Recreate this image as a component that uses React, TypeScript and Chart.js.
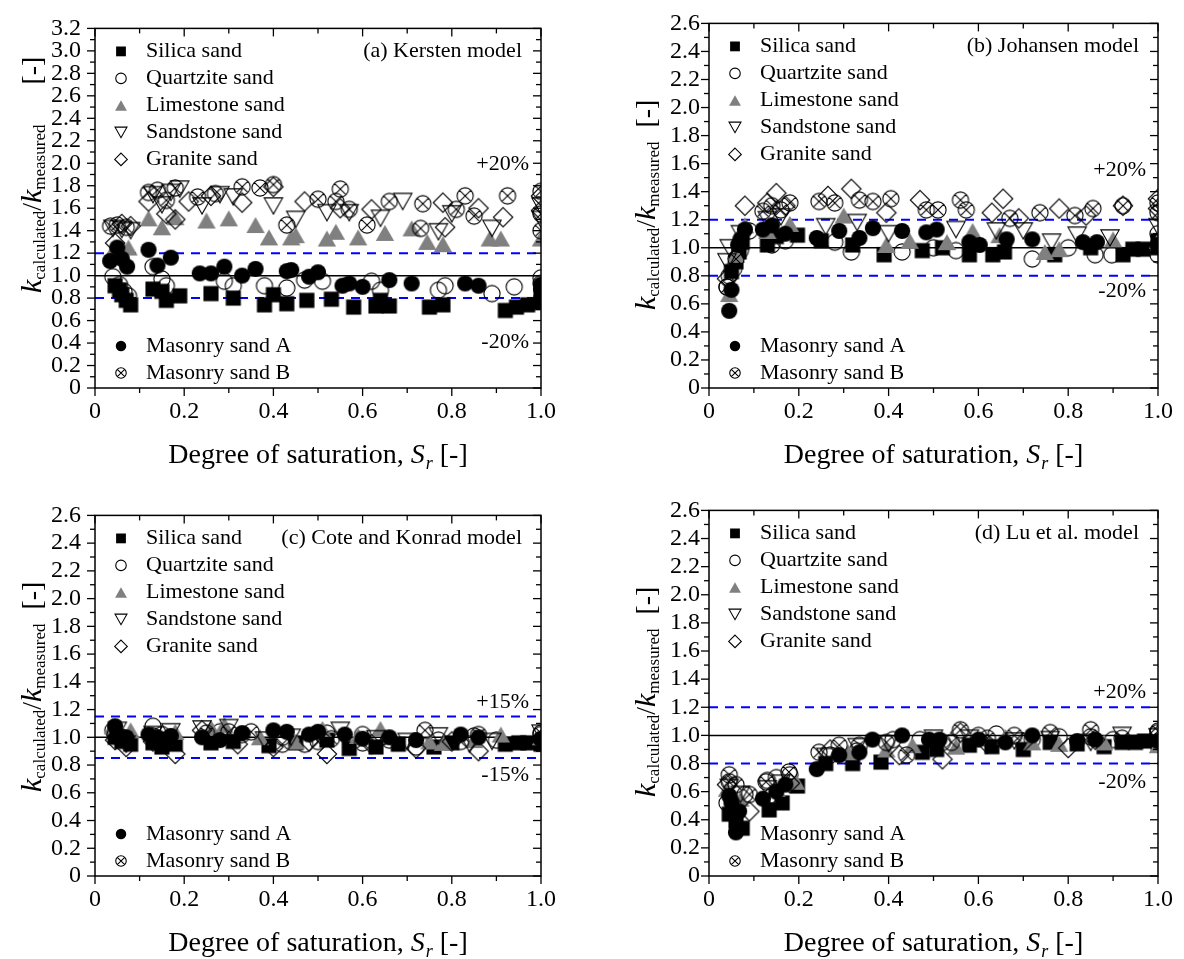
import React, { useEffect, useRef } from 'react';
import { Chart, registerables } from 'chart.js';

Chart.register(...registerables);

type Pt = [number, number];

const SERIES_NAMES = ['Silica sand', 'Quartzite sand', 'Limestone sand', 'Sandstone sand', 'Granite sand', 'Masonry sand A', 'Masonry sand B'];
const MARKER_KINDS = ['square', 'circleOpen', 'triangleGray', 'triDownOpen', 'diamondOpen', 'circleFilled', 'circleCross'];

const X_TICK_LABELS = ['0', '0.2', '0.4', '0.6', '0.8', '1.0'];
const Y_TICK_LABELS_32 = ['0', '0.2', '0.4', '0.6', '0.8', '1.0', '1.2', '1.4', '1.6', '1.8', '2.0', '2.2', '2.4', '2.6', '2.8', '3.0', '3.2'];
const Y_TICK_LABELS_26 = ['0', '0.2', '0.4', '0.6', '0.8', '1.0', '1.2', '1.4', '1.6', '1.8', '2.0', '2.2', '2.4', '2.6'];

// ---------------- (a) Kersten model ----------------
const A_SILICA: Pt[] = [[0.045, 0.91], [0.055, 0.87], [0.06, 0.83], [0.07, 0.78], [0.08, 0.74], [0.13, 0.88], [0.15, 0.86], [0.16, 0.78], [0.19, 0.82], [0.26, 0.84], [0.31, 0.80], [0.38, 0.74], [0.40, 0.83], [0.43, 0.75], [0.475, 0.78], [0.53, 0.79], [0.58, 0.72], [0.63, 0.73], [0.64, 0.78], [0.66, 0.73], [0.75, 0.72], [0.78, 0.74], [0.92, 0.69], [0.945, 0.72], [0.97, 0.74], [1.0, 0.76], [1.0, 0.80]];
const A_QUARTZITE: Pt[] = [[0.04, 0.99], [0.055, 0.92], [0.065, 0.86], [0.075, 0.82], [0.13, 1.08], [0.15, 0.97], [0.16, 0.91], [0.29, 0.95], [0.31, 0.91], [0.38, 0.91], [0.43, 0.89], [0.47, 0.96], [0.51, 0.95], [0.62, 0.95], [0.64, 0.87], [0.77, 0.87], [0.785, 0.91], [0.89, 0.84], [0.94, 0.90], [1.0, 0.93], [1.0, 0.98]];
const A_LIMESTONE: Pt[] = [[0.04, 1.22], [0.075, 1.25], [0.12, 1.51], [0.15, 1.43], [0.18, 1.52], [0.25, 1.49], [0.30, 1.51], [0.36, 1.45], [0.39, 1.34], [0.44, 1.34], [0.45, 1.36], [0.52, 1.33], [0.54, 1.39], [0.59, 1.34], [0.65, 1.38], [0.71, 1.42], [0.745, 1.30], [0.78, 1.28], [0.885, 1.33], [0.91, 1.33], [1.0, 1.33]];
const A_SANDSTONE: Pt[] = [[0.04, 1.42], [0.06, 1.41], [0.08, 1.40], [0.13, 1.72], [0.15, 1.63], [0.17, 1.74], [0.19, 1.77], [0.24, 1.62], [0.28, 1.72], [0.31, 1.70], [0.40, 1.62], [0.45, 1.50], [0.52, 1.56], [0.57, 1.56], [0.64, 1.51], [0.69, 1.66], [0.77, 1.39], [0.80, 1.55], [0.89, 1.42], [1.0, 1.50], [1.0, 1.62]];
const A_GRANITE: Pt[] = [[0.045, 1.29], [0.06, 1.46], [0.08, 1.44], [0.12, 1.66], [0.16, 1.55], [0.18, 1.50], [0.21, 1.66], [0.26, 1.71], [0.33, 1.65], [0.40, 1.79], [0.47, 1.66], [0.55, 1.60], [0.62, 1.59], [0.78, 1.65], [0.785, 1.43], [0.86, 1.60], [0.915, 1.52], [1.0, 1.58], [1.0, 1.71]];
const A_MASONRY_A: Pt[] = [[0.034, 1.13], [0.05, 1.25], [0.06, 1.15], [0.072, 1.08], [0.12, 1.23], [0.14, 1.09], [0.17, 1.16], [0.235, 1.02], [0.26, 1.02], [0.29, 1.08], [0.33, 1.00], [0.36, 1.06], [0.43, 1.04], [0.44, 1.05], [0.48, 0.99], [0.50, 1.03], [0.555, 0.91], [0.57, 0.93], [0.60, 0.90], [0.66, 0.96], [0.71, 0.93], [0.83, 0.93], [0.86, 0.91], [1.0, 0.88], [1.0, 0.92]];
const A_MASONRY_B: Pt[] = [[0.035, 1.44], [0.05, 1.45], [0.07, 1.43], [0.12, 1.74], [0.14, 1.76], [0.16, 1.67], [0.18, 1.78], [0.23, 1.70], [0.27, 1.73], [0.33, 1.79], [0.37, 1.78], [0.40, 1.81], [0.43, 1.45], [0.50, 1.68], [0.54, 1.66], [0.55, 1.77], [0.57, 1.59], [0.61, 1.45], [0.66, 1.66], [0.73, 1.42], [0.735, 1.64], [0.81, 1.59], [0.83, 1.71], [0.85, 1.53], [0.925, 1.71], [1.0, 1.40], [1.0, 1.55], [1.0, 1.75]];

// ---------------- (b) Johansen model ----------------
const B_SILICA: Pt[] = [[0.05, 0.83], [0.06, 0.90], [0.067, 0.97], [0.074, 1.04], [0.13, 1.02], [0.15, 1.08], [0.197, 1.09], [0.25, 1.05], [0.32, 1.02], [0.39, 0.95], [0.475, 0.98], [0.52, 1.00], [0.58, 0.95], [0.632, 0.95], [0.658, 0.97], [0.77, 0.95], [0.85, 1.00], [0.922, 0.95], [0.944, 0.99], [0.967, 0.99], [1.0, 1.00], [1.0, 1.05]];
const B_QUARTZITE: Pt[] = [[0.04, 0.72], [0.055, 0.85], [0.07, 0.98], [0.09, 1.12], [0.14, 1.02], [0.17, 1.05], [0.28, 1.04], [0.317, 0.97], [0.43, 0.97], [0.50, 1.00], [0.55, 0.98], [0.72, 0.92], [0.80, 1.00], [0.86, 0.95], [0.897, 0.95], [1.0, 0.95], [1.0, 1.10]];
const B_LIMESTONE: Pt[] = [[0.045, 0.67], [0.06, 0.95], [0.08, 1.16], [0.13, 1.12], [0.18, 1.17], [0.30, 1.23], [0.395, 1.02], [0.447, 1.05], [0.53, 1.04], [0.587, 1.12], [0.647, 1.09], [0.748, 0.97], [0.78, 0.99], [0.90, 1.06], [1.0, 1.05]];
const B_SANDSTONE: Pt[] = [[0.04, 0.90], [0.045, 1.00], [0.07, 1.10], [0.13, 1.20], [0.16, 1.22], [0.26, 1.15], [0.33, 1.18], [0.40, 1.10], [0.55, 1.13], [0.64, 1.12], [0.70, 1.12], [0.763, 1.04], [0.82, 1.09], [0.893, 1.07], [1.0, 1.15]];
const B_GRANITE: Pt[] = [[0.04, 0.78], [0.08, 1.30], [0.13, 1.32], [0.15, 1.39], [0.17, 1.30], [0.265, 1.37], [0.317, 1.42], [0.395, 1.25], [0.47, 1.34], [0.63, 1.25], [0.655, 1.35], [0.69, 1.21], [0.78, 1.28], [0.84, 1.23], [0.922, 1.30], [1.0, 1.28], [1.0, 1.35]];
const B_MASONRY_A: Pt[] = [[0.045, 0.55], [0.05, 0.70], [0.065, 1.02], [0.07, 1.06], [0.08, 1.13], [0.12, 1.13], [0.14, 1.16], [0.17, 1.10], [0.24, 1.07], [0.29, 1.12], [0.335, 1.07], [0.365, 1.14], [0.43, 1.12], [0.484, 1.11], [0.507, 1.13], [0.58, 1.04], [0.603, 1.02], [0.663, 1.06], [0.72, 1.06], [0.833, 1.04], [0.864, 1.04], [1.0, 1.02]];
const B_MASONRY_B: Pt[] = [[0.04, 0.72], [0.045, 0.80], [0.06, 0.92], [0.12, 1.26], [0.14, 1.30], [0.16, 1.27], [0.18, 1.32], [0.245, 1.33], [0.28, 1.32], [0.335, 1.34], [0.365, 1.33], [0.405, 1.35], [0.484, 1.27], [0.51, 1.27], [0.56, 1.34], [0.573, 1.27], [0.67, 1.21], [0.737, 1.25], [0.815, 1.23], [0.855, 1.28], [0.922, 1.30], [1.0, 1.25], [1.0, 1.32]];

// ---------------- (c) Cote and Konrad model ----------------
const C_SILICA: Pt[] = [[0.045, 1.00], [0.06, 0.97], [0.08, 0.95], [0.13, 0.96], [0.15, 0.93], [0.18, 0.95], [0.26, 0.96], [0.31, 0.97], [0.39, 0.94], [0.45, 0.96], [0.52, 0.98], [0.57, 0.92], [0.63, 0.93], [0.68, 0.95], [0.76, 0.93], [0.80, 0.96], [0.92, 0.95], [0.95, 0.96], [0.97, 0.96], [1.0, 0.95]];
const C_QUARTZITE: Pt[] = [[0.04, 1.05], [0.06, 0.99], [0.13, 1.08], [0.15, 1.02], [0.16, 0.98], [0.28, 1.04], [0.33, 1.02], [0.42, 1.00], [0.47, 0.95], [0.52, 1.03], [0.60, 1.02], [0.64, 1.00], [0.72, 0.93], [0.77, 0.98], [0.85, 1.01], [0.90, 0.98], [1.0, 1.02]];
const C_LIMESTONE: Pt[] = [[0.04, 1.08], [0.08, 1.05], [0.18, 1.04], [0.26, 1.07], [0.29, 1.09], [0.37, 1.00], [0.45, 0.97], [0.51, 1.06], [0.59, 1.01], [0.64, 1.06], [0.75, 0.97], [0.78, 0.96], [0.85, 0.98], [0.91, 1.02], [1.0, 1.00]];
const C_SANDSTONE: Pt[] = [[0.05, 1.05], [0.07, 0.95], [0.13, 1.02], [0.17, 1.04], [0.24, 1.06], [0.30, 1.07], [0.38, 0.98], [0.44, 1.00], [0.55, 1.05], [0.63, 0.99], [0.70, 0.97], [0.77, 1.01], [0.84, 0.95], [0.89, 0.97], [1.0, 1.03]];
const C_GRANITE: Pt[] = [[0.045, 0.98], [0.07, 0.93], [0.13, 0.97], [0.18, 0.88], [0.24, 1.05], [0.32, 0.95], [0.40, 0.93], [0.48, 0.97], [0.52, 0.88], [0.62, 0.95], [0.72, 0.92], [0.80, 0.97], [0.86, 0.90], [1.0, 0.98]];
const C_MASONRY_A: Pt[] = [[0.045, 1.08], [0.05, 1.02], [0.07, 1.00], [0.12, 1.02], [0.14, 1.00], [0.17, 1.01], [0.24, 1.00], [0.28, 0.98], [0.33, 1.03], [0.40, 1.05], [0.43, 1.04], [0.48, 1.02], [0.50, 1.04], [0.56, 1.02], [0.60, 0.99], [0.66, 1.00], [0.72, 0.98], [0.82, 1.02], [0.86, 1.00], [1.0, 0.99]];
const C_MASONRY_B: Pt[] = [[0.045, 1.02], [0.06, 1.00], [0.13, 1.01], [0.16, 0.98], [0.25, 1.03], [0.30, 1.04], [0.35, 1.04], [0.42, 0.95], [0.50, 0.97], [0.53, 0.99], [0.60, 0.96], [0.66, 0.98], [0.74, 1.05], [0.82, 0.97], [0.86, 1.02], [1.0, 1.03]];

// ---------------- (d) Lu et al. model ----------------
const D_SILICA: Pt[] = [[0.045, 0.44], [0.06, 0.39], [0.074, 0.34], [0.134, 0.47], [0.163, 0.52], [0.197, 0.64], [0.26, 0.80], [0.32, 0.80], [0.383, 0.81], [0.475, 0.88], [0.507, 0.90], [0.58, 0.93], [0.63, 0.92], [0.70, 0.90], [0.76, 0.95], [0.82, 0.94], [0.88, 0.92], [0.92, 0.95], [0.95, 0.95], [0.97, 0.96], [1.0, 0.95]];
const D_QUARTZITE: Pt[] = [[0.04, 0.52], [0.06, 0.47], [0.08, 0.58], [0.13, 0.68], [0.15, 0.70], [0.18, 0.72], [0.27, 0.86], [0.33, 0.89], [0.41, 0.97], [0.47, 0.97], [0.52, 0.95], [0.60, 1.00], [0.64, 1.01], [0.72, 0.97], [0.78, 0.99], [0.85, 0.99], [0.90, 0.97], [1.0, 1.02]];
const D_LIMESTONE: Pt[] = [[0.04, 0.62], [0.07, 0.55], [0.15, 0.62], [0.194, 0.67], [0.31, 0.88], [0.395, 0.90], [0.453, 0.93], [0.55, 0.92], [0.66, 0.99], [0.72, 0.95], [0.78, 0.94], [0.88, 0.95], [1.0, 0.93]];
const D_SANDSTONE: Pt[] = [[0.045, 0.63], [0.07, 0.58], [0.13, 0.62], [0.16, 0.66], [0.26, 0.85], [0.33, 0.92], [0.40, 0.94], [0.50, 0.98], [0.58, 0.98], [0.68, 0.96], [0.76, 0.97], [0.85, 0.95], [0.92, 1.00], [1.0, 0.99]];
const D_GRANITE: Pt[] = [[0.04, 0.65], [0.09, 0.46], [0.14, 0.58], [0.18, 0.66], [0.27, 0.90], [0.424, 0.86], [0.52, 0.83], [0.56, 1.02], [0.62, 0.94], [0.70, 0.95], [0.80, 0.91], [0.86, 0.97], [1.0, 1.00]];
const D_MASONRY_A: Pt[] = [[0.045, 0.57], [0.05, 0.52], [0.067, 0.46], [0.06, 0.31], [0.12, 0.55], [0.15, 0.60], [0.17, 0.65], [0.24, 0.76], [0.29, 0.86], [0.335, 0.88], [0.364, 0.97], [0.43, 1.00], [0.49, 0.97], [0.513, 0.97], [0.60, 0.97], [0.66, 0.95], [0.72, 1.00], [0.82, 0.96], [0.86, 0.97], [1.0, 0.96]];
const D_MASONRY_B: Pt[] = [[0.045, 0.72], [0.045, 0.67], [0.06, 0.65], [0.09, 0.58], [0.127, 0.67], [0.178, 0.74], [0.245, 0.88], [0.29, 0.93], [0.335, 0.93], [0.395, 0.95], [0.44, 0.86], [0.54, 0.95], [0.56, 1.04], [0.62, 0.98], [0.68, 1.00], [0.76, 1.02], [0.85, 1.04], [0.92, 0.98], [1.0, 1.03]];

const SERIF = '"Liberation Serif", "Times New Roman", serif';

interface PanelCfg {
  left: number; top: number; w: number; h: number;
  plotLeft: number; plotTop: number; plotRight: number; plotBottom: number;
  yMax: number; yLabels: string[]; labelPad: number;
  title: string; bandHi: number; bandLo: number; hiLabel: string; loLabel: string;
  hiLabelAt: number; loLabelAt: number;
  yTitleStart: number; yTitleGap: number;
  series: Pt[][];
}

const PANELS: PanelCfg[] = [
  {
    left: 0, top: 0, w: 590, h: 480, plotLeft: 95, plotTop: 17, plotRight: 541, plotBottom: 388,
    yMax: 3.2, yLabels: Y_TICK_LABELS_32, labelPad: 14,
    title: '(a) Kersten model', bandHi: 1.2, bandLo: 0.8, hiLabel: '+20%', loLabel: '-20%', hiLabelAt: 1.99, loLabelAt: 0.41,
    yTitleStart: 293, yTitleGap: 40,
    series: [A_SILICA, A_QUARTZITE, A_LIMESTONE, A_SANDSTONE, A_GRANITE, A_MASONRY_A, A_MASONRY_B],
  },
  {
    left: 600, top: 0, w: 584, h: 480, plotLeft: 709, plotTop: 17, plotRight: 1158, plotBottom: 388,
    yMax: 2.6, yLabels: Y_TICK_LABELS_26, labelPad: 9,
    title: '(b) Johansen model', bandHi: 1.2, bandLo: 0.8, hiLabel: '+20%', loLabel: '-20%', hiLabelAt: 1.55, loLabelAt: 0.69,
    yTitleStart: 310, yTitleGap: 14,
    series: [B_SILICA, B_QUARTZITE, B_LIMESTONE, B_SANDSTONE, B_GRANITE, B_MASONRY_A, B_MASONRY_B],
  },
  {
    left: 0, top: 487, w: 590, h: 472, plotLeft: 95, plotTop: 504, plotRight: 541, plotBottom: 876,
    yMax: 2.6, yLabels: Y_TICK_LABELS_26, labelPad: 14,
    title: '(c) Cote and Konrad model', bandHi: 1.15, bandLo: 0.85, hiLabel: '+15%', loLabel: '-15%', hiLabelAt: 1.25, loLabelAt: 0.73,
    yTitleStart: 792, yTitleGap: 14,
    series: [C_SILICA, C_QUARTZITE, C_LIMESTONE, C_SANDSTONE, C_GRANITE, C_MASONRY_A, C_MASONRY_B],
  },
  {
    left: 600, top: 487, w: 584, h: 472, plotLeft: 709, plotTop: 504, plotRight: 1158, plotBottom: 876,
    yMax: 2.6, yLabels: Y_TICK_LABELS_26, labelPad: 9,
    title: '(d) Lu et al. model', bandHi: 1.2, bandLo: 0.8, hiLabel: '+20%', loLabel: '-20%', hiLabelAt: 1.31, loLabelAt: 0.67,
    yTitleStart: 797, yTitleGap: 14,
    series: [D_SILICA, D_QUARTZITE, D_LIMESTONE, D_SANDSTONE, D_GRANITE, D_MASONRY_A, D_MASONRY_B],
  },
];

function drawMarker(ctx: CanvasRenderingContext2D, kind: string, x: number, y: number, k: number) {
  ctx.save();
  ctx.lineWidth = 1.1;
  ctx.strokeStyle = '#000';
  ctx.fillStyle = '#000';
  ctx.setLineDash([]);
  ctx.beginPath();
  const hw = 8.5 * k, hh = 7.5 * k;
  if (kind === 'square') {
    const h = 7 * k;
    ctx.rect(x - h, y - h, 2 * h, 2 * h);
    ctx.fill();
  } else if (kind === 'circleOpen') {
    ctx.arc(x, y, 7.5 * k, 0, Math.PI * 2);
    ctx.stroke();
  } else if (kind === 'circleFilled') {
    ctx.arc(x, y, 7.5 * k, 0, Math.PI * 2);
    ctx.fill();
  } else if (kind === 'triangleGray') {
    ctx.moveTo(x, y - hh);
    ctx.lineTo(x + hw, y + hh);
    ctx.lineTo(x - hw, y + hh);
    ctx.closePath();
    ctx.fillStyle = '#808080';
    ctx.fill();
  } else if (kind === 'triDownOpen') {
    ctx.moveTo(x - hw, y - hh);
    ctx.lineTo(x + hw, y - hh);
    ctx.lineTo(x, y + hh);
    ctx.closePath();
    ctx.stroke();
  } else if (kind === 'diamondOpen') {
    const d = 9 * k;
    ctx.moveTo(x, y - d);
    ctx.lineTo(x + d, y);
    ctx.lineTo(x, y + d);
    ctx.lineTo(x - d, y);
    ctx.closePath();
    ctx.stroke();
  } else if (kind === 'circleCross') {
    const r = 7.5 * k;
    ctx.arc(x, y, r, 0, Math.PI * 2);
    const q = r * Math.SQRT1_2;
    ctx.moveTo(x - q, y - q);
    ctx.lineTo(x + q, y + q);
    ctx.moveTo(x + q, y - q);
    ctx.lineTo(x - q, y + q);
    ctx.stroke();
  }
  ctx.restore();
}

function makeMarkerCanvas(kind: string, k: number): HTMLCanvasElement {
  const c = document.createElement('canvas');
  c.width = 26;
  c.height = 26;
  const ctx = c.getContext('2d')!;
  drawMarker(ctx, kind, 13, 13, k);
  return c;
}

interface Run { t: string; font: string; dy?: number; dx?: number }

function runsWidth(ctx: CanvasRenderingContext2D, runs: Run[]) {
  let w = 0;
  for (const r of runs) {
    ctx.font = r.font;
    w += ctx.measureText(r.t).width + (r.dx || 0);
  }
  return w;
}

function drawRuns(ctx: CanvasRenderingContext2D, runs: Run[], x: number, y: number) {
  let cx = x;
  ctx.textBaseline = 'alphabetic';
  ctx.textAlign = 'left';
  for (const r of runs) {
    cx += r.dx || 0;
    ctx.font = r.font;
    ctx.fillText(r.t, cx, y + (r.dy || 0));
    cx += ctx.measureText(r.t).width;
  }
}

function Panel({ cfg }: { cfg: PanelCfg }) {
  const ref = useRef<HTMLCanvasElement>(null);
  useEffect(() => {
    const canvas = ref.current!;
    const images = MARKER_KINDS.map((k) => makeMarkerCanvas(k, 1.08));
    const datasets = SERIES_NAMES.map((name, i) => ({
      label: name,
      data: cfg.series[i].map(([x, y]) => ({ x, y })),
      pointStyle: images[i],
      pointRadius: 8,
      showLine: false,
      clip: 0,
      order: SERIES_NAMES.length - i,
    }));

    const tickFont = { family: SERIF, size: 24 };

    const panelPlugin = {
      id: 'panelDecor',
      beforeDatasetsDraw(chart: any) {
        const ctx: CanvasRenderingContext2D = chart.ctx;
        const ca = chart.chartArea;
        const ys = chart.scales.y;
        ctx.save();
        ctx.beginPath();
        ctx.rect(ca.left, ca.top, ca.right - ca.left, ca.bottom - ca.top);
        ctx.clip();
        ctx.strokeStyle = '#000';
        ctx.lineWidth = 1.5;
        ctx.beginPath();
        const y1 = ys.getPixelForValue(1);
        ctx.moveTo(ca.left, y1);
        ctx.lineTo(ca.right, y1);
        ctx.stroke();
        ctx.strokeStyle = '#0000ff';
        ctx.lineWidth = 2;
        ctx.setLineDash([9, 7]);
        for (const v of [cfg.bandHi, cfg.bandLo]) {
          const py = ys.getPixelForValue(v);
          ctx.beginPath();
          ctx.moveTo(ca.left, py);
          ctx.lineTo(ca.right, py);
          ctx.stroke();
        }
        ctx.restore();
      },
      afterDraw(chart: any) {
        const ctx: CanvasRenderingContext2D = chart.ctx;
        const ca = chart.chartArea;
        const xs = chart.scales.x;
        const ys = chart.scales.y;
        ctx.save();
        ctx.strokeStyle = '#000';
        ctx.fillStyle = '#000';
        ctx.setLineDash([]);
        ctx.lineWidth = 1.5;
        ctx.strokeRect(ca.left, ca.top, ca.right - ca.left, ca.bottom - ca.top);
        ctx.lineWidth = 1.3;
        const line = (x1: number, y1: number, x2: number, y2: number) => {
          ctx.beginPath();
          ctx.moveTo(x1, y1);
          ctx.lineTo(x2, y2);
          ctx.stroke();
        };
        const nY = Math.round(cfg.yMax * 10);
        for (let i = 0; i <= nY; i++) {
          const py = ys.getPixelForValue(i / 10);
          const len = i % 2 === 0 ? 8 : 5;
          line(ca.left - len, py, ca.left, py);
          line(ca.right - len, py, ca.right, py);
        }
        for (let i = 0; i <= 10; i++) {
          const px = xs.getPixelForValue(i / 10);
          const len = i % 2 === 0 ? 8 : 5;
          line(px, ca.bottom, px, ca.bottom + len);
          line(px, ca.top, px, ca.top + len);
        }
        // legend
        const legFont = `22px ${SERIF}`;
        ctx.textBaseline = 'middle';
        ctx.textAlign = 'left';
        const mx = ca.left + 26;
        const tx = ca.left + 51;
        for (let i = 0; i < 5; i++) {
          const ry = ca.top + 23 + 27 * i;
          drawMarker(ctx, MARKER_KINDS[i], mx, ry, 0.7);
          ctx.fillStyle = '#000';
          ctx.font = legFont;
          ctx.fillText(SERIES_NAMES[i], tx, ry);
        }
        for (let j = 0; j < 2; j++) {
          const i = 5 + j;
          const ry = ca.bottom - 42 + 27 * j;
          drawMarker(ctx, MARKER_KINDS[i], mx, ry, 0.7);
          ctx.fillStyle = '#000';
          ctx.font = legFont;
          ctx.fillText(SERIES_NAMES[i], tx, ry);
        }
        ctx.textAlign = 'right';
        ctx.font = legFont;
        ctx.fillText(cfg.title, ca.right - 19, ca.top + 23);
        ctx.fillText(cfg.hiLabel, ca.right - 12, ys.getPixelForValue(cfg.hiLabelAt));
        ctx.fillText(cfg.loLabel, ca.right - 12, ys.getPixelForValue(cfg.loLabelAt));
        // x title
        const big = `28px ${SERIF}`;
        const bigI = `italic 28px ${SERIF}`;
        const xRuns: Run[] = [
          { t: 'Degree of saturation, ', font: big },
          { t: 'S', font: bigI },
          { t: 'r', font: `italic 18px ${SERIF}`, dy: 6, dx: 1 },
          { t: ' [-]', font: big },
        ];
        const xw = runsWidth(ctx, xRuns);
        drawRuns(ctx, xRuns, (ca.left + ca.right) / 2 - xw / 2, ca.bottom + 75);
        // y title (rotated)
        const sub = `17px ${SERIF}`;
        const kFont = `italic 30px ${SERIF}`;
        const yRuns: Run[] = [
          { t: 'k', font: kFont },
          { t: 'calculated', font: sub, dy: 4 },
          { t: '/', font: big },
          { t: 'k', font: kFont },
          { t: 'measured', font: sub, dy: 4 },
          { t: '[-]', font: big, dx: cfg.yTitleGap },
        ];
        ctx.save();
        ctx.translate(ca.left - 54, cfg.yTitleStart - cfg.top);
        ctx.rotate(-Math.PI / 2);
        drawRuns(ctx, yRuns, 0, 0);
        ctx.restore();
        ctx.restore();
      },
    };

    const chart = new Chart(canvas, {
      type: 'scatter',
      data: { datasets: datasets as any },
      options: {
        responsive: false,
        maintainAspectRatio: false,
        animation: false,
        devicePixelRatio: 1,
        events: [],
        layout: {
          padding: { left: 0, top: cfg.plotTop - cfg.top, right: cfg.left + cfg.w - cfg.plotRight, bottom: 0 },
        },
        plugins: { legend: { display: false }, tooltip: { enabled: false } },
        scales: {
          x: {
            type: 'linear',
            min: 0,
            max: 1,
            afterFit: (s: any) => { s.height = cfg.top + cfg.h - cfg.plotBottom; },
            afterBuildTicks: (s: any) => { s.ticks = X_TICK_LABELS.map((_, i) => ({ value: i * 0.2 })); },
            ticks: {
              callback: (_v: any, i: number) => X_TICK_LABELS[i],
              font: tickFont, color: '#000', padding: 9, maxRotation: 0, autoSkip: false,
            },
            grid: { display: false, drawTicks: false },
            border: { display: false },
          },
          y: {
            type: 'linear',
            min: 0,
            max: cfg.yMax,
            afterFit: (s: any) => { s.width = cfg.plotLeft - cfg.left; },
            afterBuildTicks: (s: any) => { s.ticks = cfg.yLabels.map((_, i) => ({ value: i * 0.2 })); },
            ticks: {
              callback: (_v: any, i: number) => cfg.yLabels[i],
              font: tickFont, color: '#000', padding: cfg.labelPad, autoSkip: false,
            },
            grid: { display: false, drawTicks: false },
            border: { display: false },
          },
        },
      } as any,
      plugins: [panelPlugin],
    });
    return () => chart.destroy();
  }, [cfg]);
  return (
    <canvas
      ref={ref}
      width={cfg.w}
      height={cfg.h}
      style={{ position: 'absolute', left: cfg.left, top: cfg.top, width: cfg.w, height: cfg.h }}
    />
  );
}

export default function App() {
  return (
    <div style={{ position: 'absolute', left: 0, top: 0, width: 1184, height: 959, background: '#fff' }}>
      {PANELS.map((p, i) => (
        <Panel key={i} cfg={p} />
      ))}
    </div>
  );
}
